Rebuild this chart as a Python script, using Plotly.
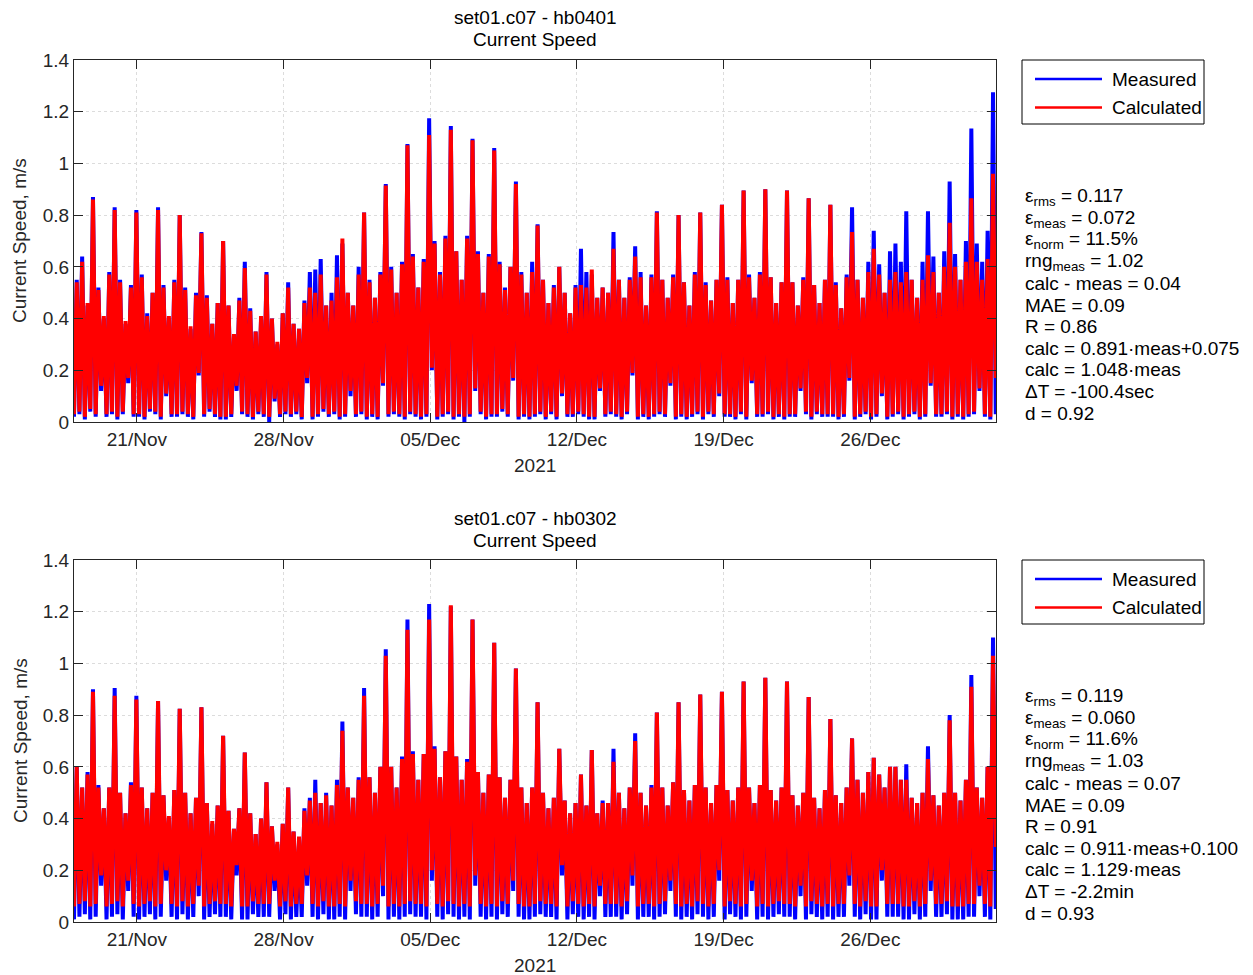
import datetime as dt
import plotly.graph_objects as go

# ---------------- data ----------------
# Peak speeds, one per quarter lunar day (≈6.21 h), starting 2021-11-17 20:54
top_meas_peaks = [
    0.50, 0.55, 0.64, 0.45,  0.87, 0.52, 0.40, 0.58,  0.83, 0.55, 0.38, 0.53,
    0.82, 0.57, 0.42, 0.50,  0.83, 0.53, 0.40, 0.55,  0.80, 0.52, 0.36, 0.50,
    0.735, 0.49, 0.38, 0.46, 0.70, 0.45, 0.33, 0.48,  0.62, 0.44, 0.35, 0.40,
    0.58, 0.40, 0.30, 0.42,  0.54, 0.38, 0.36, 0.47,  0.58, 0.59, 0.63, 0.45,
    0.50, 0.645, 0.69, 0.50, 0.45, 0.60, 0.81, 0.55,  0.48, 0.58, 0.92, 0.60,
    0.50, 0.62, 1.075, 0.65, 0.52, 0.63, 1.175, 0.70, 0.58, 0.72, 1.145, 0.66,
    0.55, 0.72, 1.095, 0.66, 0.50, 0.65, 1.06, 0.62,  0.52, 0.60, 0.93, 0.58,
    0.50, 0.62, 0.765, 0.55, 0.46, 0.53, 0.60, 0.50,  0.42, 0.53, 0.67, 0.58,
    0.57, 0.48, 0.52, 0.50,  0.735, 0.55, 0.48, 0.56, 0.68, 0.58, 0.45, 0.57,
    0.815, 0.55, 0.48, 0.57, 0.80, 0.54, 0.45, 0.58,  0.81, 0.54, 0.47, 0.55,
    0.84, 0.56, 0.46, 0.55,  0.895, 0.57, 0.48, 0.58, 0.90, 0.56, 0.46, 0.54,
    0.895, 0.54, 0.45, 0.56, 0.865, 0.53, 0.46, 0.55, 0.84, 0.54, 0.44, 0.57,
    0.83, 0.55, 0.48, 0.62,  0.74, 0.61, 0.50, 0.66,  0.69, 0.62, 0.815, 0.55,
    0.48, 0.62, 0.815, 0.64, 0.50, 0.66, 0.93, 0.65,  0.55, 0.70, 1.135, 0.69,
    0.62, 0.74, 1.275, 0.75, 0.60,
]
top_calc_peaks = [
    0.49, 0.54, 0.62, 0.46,  0.86, 0.51, 0.41, 0.57,  0.82, 0.54, 0.39, 0.52,
    0.81, 0.56, 0.41, 0.50,  0.82, 0.52, 0.41, 0.54,  0.80, 0.51, 0.37, 0.49,
    0.73, 0.48, 0.38, 0.46,  0.70, 0.45, 0.34, 0.47,  0.595, 0.43, 0.35, 0.41,
    0.57, 0.40, 0.31, 0.42,  0.52, 0.38, 0.36, 0.46,  0.52, 0.50, 0.57, 0.45,
    0.47, 0.56, 0.71, 0.50,  0.45, 0.57, 0.81, 0.54,  0.48, 0.57, 0.915, 0.59,
    0.50, 0.61, 1.07, 0.64,  0.52, 0.62, 1.11, 0.69,  0.57, 0.71, 1.13, 0.66,
    0.55, 0.71, 1.09, 0.65,  0.50, 0.64, 1.05, 0.61,  0.51, 0.60, 0.92, 0.57,
    0.50, 0.58, 0.76, 0.55,  0.46, 0.52, 0.60, 0.50,  0.42, 0.52, 0.53, 0.52,
    0.59, 0.48, 0.52, 0.50,  0.67, 0.55, 0.48, 0.55,  0.64, 0.56, 0.45, 0.56,
    0.81, 0.55, 0.48, 0.56,  0.80, 0.54, 0.45, 0.57,  0.81, 0.53, 0.47, 0.55,
    0.84, 0.55, 0.46, 0.55,  0.895, 0.56, 0.48, 0.57, 0.90, 0.56, 0.46, 0.54,
    0.895, 0.54, 0.45, 0.55, 0.865, 0.53, 0.46, 0.55, 0.84, 0.53, 0.44, 0.56,
    0.735, 0.55, 0.48, 0.58, 0.67, 0.57, 0.50, 0.55,  0.58, 0.54, 0.58, 0.55,
    0.48, 0.55, 0.645, 0.58, 0.50, 0.60, 0.77, 0.60,  0.55, 0.62, 0.865, 0.62,
    0.55, 0.63, 0.96, 0.65,  0.55,
]
bot_meas_peaks = [
    0.55, 0.60, 0.52, 0.58,  0.90, 0.53, 0.44, 0.52,  0.905, 0.50, 0.42, 0.54,
    0.875, 0.52, 0.44, 0.50, 0.855, 0.49, 0.40, 0.51, 0.825, 0.50, 0.42, 0.48,
    0.83, 0.46, 0.38, 0.45,  0.72, 0.43, 0.36, 0.44,  0.655, 0.42, 0.34, 0.40,
    0.54, 0.37, 0.30, 0.38,  0.52, 0.35, 0.32, 0.44,  0.48, 0.55, 0.46, 0.50,
    0.45, 0.55, 0.775, 0.52, 0.48, 0.56, 0.905, 0.56, 0.50, 0.60, 1.055, 0.60,
    0.52, 0.64, 1.17, 0.66,  0.55, 0.65, 1.23, 0.68,  0.56, 0.66, 1.22, 0.64,
    0.55, 0.63, 1.17, 0.58,  0.50, 0.57, 1.08, 0.56,  0.48, 0.55, 0.98, 0.52,
    0.46, 0.52, 0.85, 0.50,  0.44, 0.48, 0.67, 0.47,  0.42, 0.46, 0.57, 0.45,
    0.665, 0.42, 0.47, 0.46, 0.67, 0.50, 0.44, 0.52,  0.73, 0.50, 0.45, 0.53,
    0.81, 0.52, 0.45, 0.54,  0.85, 0.51, 0.47, 0.53,  0.88, 0.52, 0.46, 0.53,
    0.89, 0.51, 0.47, 0.52,  0.93, 0.52, 0.46, 0.53,  0.945, 0.51, 0.47, 0.52,
    0.93, 0.49, 0.45, 0.50,  0.87, 0.48, 0.44, 0.51,  0.785, 0.49, 0.46, 0.52,
    0.71, 0.55, 0.50, 0.58,  0.635, 0.57, 0.52, 0.60, 0.60, 0.55, 0.61, 0.48,
    0.46, 0.50, 0.68, 0.49,  0.45, 0.50, 0.80, 0.50,  0.47, 0.55, 0.955, 0.52,
    0.48, 0.60, 1.10, 0.62,  0.55,
]
bot_calc_peaks = [
    0.54, 0.60, 0.52, 0.57,  0.89, 0.52, 0.44, 0.52,  0.875, 0.50, 0.42, 0.53,
    0.86, 0.52, 0.44, 0.50,  0.855, 0.49, 0.41, 0.51, 0.825, 0.50, 0.42, 0.48,
    0.83, 0.46, 0.39, 0.45,  0.72, 0.43, 0.36, 0.44,  0.655, 0.42, 0.34, 0.40,
    0.54, 0.37, 0.31, 0.38,  0.52, 0.35, 0.33, 0.43,  0.47, 0.50, 0.46, 0.49,
    0.45, 0.53, 0.74, 0.52,  0.48, 0.55, 0.875, 0.56, 0.50, 0.60, 1.03, 0.60,
    0.52, 0.63, 1.13, 0.65,  0.55, 0.65, 1.17, 0.67,  0.56, 0.66, 1.225, 0.64,
    0.55, 0.62, 1.17, 0.58,  0.50, 0.57, 1.08, 0.56,  0.48, 0.55, 0.98, 0.52,
    0.46, 0.52, 0.85, 0.50,  0.44, 0.48, 0.67, 0.47,  0.42, 0.46, 0.57, 0.45,
    0.665, 0.42, 0.46, 0.46, 0.62, 0.50, 0.44, 0.52,  0.70, 0.50, 0.45, 0.52,
    0.81, 0.52, 0.45, 0.54,  0.85, 0.51, 0.47, 0.53,  0.88, 0.52, 0.46, 0.53,
    0.89, 0.51, 0.47, 0.52,  0.93, 0.52, 0.46, 0.53,  0.945, 0.51, 0.47, 0.52,
    0.93, 0.49, 0.45, 0.50,  0.87, 0.48, 0.44, 0.51,  0.785, 0.49, 0.46, 0.52,
    0.71, 0.55, 0.50, 0.58,  0.635, 0.57, 0.52, 0.60, 0.60, 0.55, 0.55, 0.48,
    0.46, 0.50, 0.63, 0.49,  0.45, 0.50, 0.78, 0.50,  0.47, 0.55, 0.91, 0.52,
    0.48, 0.60, 1.03, 0.60,  0.55,
]
# Slack-water minima following each peak
top_meas_troughs = [
    0.02,0.03,0.01,0.04, 0.02,0.12,0.02,0.03, 0.01,0.03,0.15,0.02, 0.02,0.01,0.04,0.03,
    0.01,0.10,0.02,0.02, 0.03,0.02,0.01,0.18, 0.02,0.04,0.02,0.01, 0.01,0.02,0.12,0.03,
    0.02,0.01,0.03,0.02, 0.00,0.08,0.02,0.03, 0.02,0.03,0.01,0.15, 0.01,0.02,0.04,0.02,
    0.03,0.01,0.02,0.10, 0.02,0.03,0.01,0.02, 0.01,0.14,0.02,0.03, 0.02,0.01,0.03,0.02,
    0.01,0.02,0.20,0.01, 0.02,0.03,0.01,0.02, 0.00,0.02,0.12,0.03, 0.01,0.02,0.02,0.04,
    0.02,0.16,0.01,0.02, 0.01,0.02,0.03,0.01, 0.03,0.01,0.10,0.02, 0.02,0.03,0.02,0.01,
    0.01,0.12,0.02,0.03, 0.02,0.01,0.03,0.18, 0.01,0.02,0.01,0.02, 0.03,0.02,0.14,0.01,
    0.02,0.01,0.02,0.03, 0.01,0.03,0.02,0.10, 0.02,0.02,0.01,0.03, 0.01,0.15,0.02,0.02,
    0.03,0.01,0.02,0.01, 0.02,0.02,0.12,0.03, 0.01,0.03,0.02,0.02, 0.02,0.01,0.02,0.16,
    0.01,0.02,0.03,0.01, 0.02,0.10,0.01,0.02, 0.03,0.01,0.02,0.03, 0.01,0.02,0.14,0.02,
    0.02,0.03,0.01,0.02, 0.01,0.02,0.03,0.12, 0.02,0.01,0.03,0.04, 0.18,
]
top_calc_troughs = [
    0.03,0.04,0.02,0.05, 0.03,0.14,0.03,0.04, 0.02,0.04,0.17,0.03, 0.03,0.02,0.05,0.04,
    0.02,0.11,0.03,0.03, 0.04,0.03,0.02,0.19, 0.03,0.05,0.03,0.02, 0.02,0.03,0.14,0.04,
    0.03,0.02,0.04,0.03, 0.02,0.09,0.03,0.04, 0.03,0.04,0.02,0.17, 0.02,0.03,0.05,0.03,
    0.04,0.02,0.03,0.12, 0.03,0.04,0.02,0.03, 0.02,0.15,0.03,0.04, 0.03,0.02,0.04,0.03,
    0.02,0.03,0.21,0.02, 0.03,0.04,0.02,0.03, 0.02,0.03,0.13,0.04, 0.02,0.03,0.03,0.05,
    0.03,0.17,0.02,0.03, 0.02,0.03,0.04,0.02, 0.04,0.02,0.11,0.03, 0.03,0.04,0.03,0.02,
    0.02,0.13,0.03,0.04, 0.03,0.02,0.04,0.19, 0.02,0.03,0.02,0.03, 0.04,0.03,0.15,0.02,
    0.03,0.02,0.03,0.04, 0.02,0.04,0.03,0.11, 0.03,0.03,0.02,0.04, 0.02,0.16,0.03,0.03,
    0.04,0.02,0.03,0.02, 0.03,0.03,0.13,0.04, 0.02,0.04,0.03,0.03, 0.03,0.02,0.03,0.17,
    0.02,0.03,0.04,0.02, 0.03,0.11,0.02,0.03, 0.04,0.02,0.03,0.04, 0.02,0.03,0.15,0.03,
    0.03,0.04,0.02,0.03, 0.02,0.03,0.04,0.13, 0.03,0.02,0.17,0.05, 0.20,
]
bot_meas_troughs = [
    0.01,0.02,0.03,0.01, 0.02,0.14,0.01,0.02, 0.03,0.01,0.12,0.02, 0.01,0.02,0.03,0.01,
    0.02,0.16,0.02,0.01, 0.03,0.01,0.02,0.10, 0.01,0.02,0.03,0.02, 0.02,0.01,0.18,0.01,
    0.01,0.03,0.02,0.02, 0.02,0.12,0.01,0.03, 0.01,0.02,0.02,0.14, 0.02,0.01,0.03,0.01,
    0.01,0.02,0.01,0.12, 0.03,0.02,0.02,0.01, 0.02,0.10,0.01,0.02, 0.01,0.02,0.03,0.02,
    0.02,0.01,0.16,0.02, 0.01,0.03,0.02,0.01, 0.02,0.01,0.14,0.02, 0.01,0.02,0.01,0.03,
    0.02,0.12,0.02,0.01, 0.01,0.02,0.03,0.02, 0.02,0.01,0.18,0.01, 0.03,0.02,0.01,0.02,
    0.01,0.10,0.02,0.02, 0.02,0.01,0.03,0.14, 0.01,0.02,0.02,0.01, 0.02,0.03,0.12,0.02,
    0.01,0.02,0.01,0.03, 0.02,0.01,0.02,0.16, 0.01,0.03,0.02,0.01, 0.02,0.12,0.01,0.02,
    0.01,0.02,0.03,0.02, 0.02,0.01,0.10,0.01, 0.03,0.02,0.01,0.02, 0.01,0.02,0.02,0.14,
    0.02,0.01,0.03,0.01, 0.01,0.16,0.02,0.02, 0.02,0.01,0.01,0.03, 0.01,0.02,0.12,0.02,
    0.02,0.03,0.01,0.01, 0.01,0.02,0.02,0.10, 0.02,0.01,0.05,0.02, 0.25,
]
bot_calc_troughs = [
    0.06,0.07,0.08,0.06, 0.07,0.18,0.06,0.07, 0.08,0.06,0.16,0.07, 0.06,0.07,0.08,0.06,
    0.07,0.20,0.07,0.06, 0.08,0.06,0.07,0.14, 0.06,0.07,0.08,0.07, 0.07,0.06,0.22,0.06,
    0.06,0.08,0.07,0.07, 0.07,0.16,0.06,0.08, 0.06,0.07,0.07,0.18, 0.07,0.06,0.08,0.06,
    0.06,0.07,0.06,0.16, 0.08,0.07,0.07,0.06, 0.07,0.14,0.06,0.07, 0.06,0.07,0.08,0.07,
    0.07,0.06,0.20,0.07, 0.06,0.08,0.07,0.06, 0.07,0.06,0.18,0.07, 0.06,0.07,0.06,0.08,
    0.07,0.16,0.07,0.06, 0.06,0.07,0.08,0.07, 0.07,0.06,0.22,0.06, 0.08,0.07,0.06,0.07,
    0.06,0.14,0.07,0.07, 0.07,0.06,0.08,0.18, 0.06,0.07,0.07,0.06, 0.07,0.08,0.16,0.07,
    0.06,0.07,0.06,0.08, 0.07,0.06,0.07,0.20, 0.06,0.08,0.07,0.06, 0.07,0.16,0.06,0.07,
    0.06,0.07,0.08,0.07, 0.07,0.06,0.14,0.06, 0.08,0.07,0.06,0.07, 0.06,0.07,0.07,0.18,
    0.07,0.06,0.08,0.06, 0.06,0.20,0.07,0.07, 0.07,0.06,0.06,0.08, 0.06,0.07,0.16,0.07,
    0.07,0.08,0.06,0.06, 0.06,0.07,0.07,0.14, 0.07,0.06,0.29,0.07, 0.29,
]

title_lines = [["set01.c07 - hb0401", "Current Speed"], ["set01.c07 - hb0302", "Current Speed"]]
stats_top = ["ε<sub>rms</sub> = 0.117", "ε<sub>meas</sub> = 0.072", "ε<sub>norm</sub> = 11.5%",
             "rng<sub>meas</sub> = 1.02", "calc - meas = 0.04", "MAE = 0.09", "R = 0.86",
             "calc = 0.891·meas+0.075", "calc = 1.048·meas", "ΔT = -100.4sec", "d = 0.92"]
stats_bot = ["ε<sub>rms</sub> = 0.119", "ε<sub>meas</sub> = 0.060", "ε<sub>norm</sub> = 11.6%",
             "rng<sub>meas</sub> = 1.03", "calc - meas = 0.07", "MAE = 0.09", "R = 0.91",
             "calc = 0.911·meas+0.100", "calc = 1.129·meas", "ΔT = -2.2min", "d = 0.93"]
tick_dates = ["2021-11-21", "2021-11-28", "2021-12-05", "2021-12-12", "2021-12-19", "2021-12-26"]
tick_text = ["21/Nov", "28/Nov", "05/Dec", "12/Dec", "19/Dec", "26/Dec"]
series_names = ["Measured", "Calculated"]

# ---------------- build ----------------
# The page body keeps its default 8 px margin, so the figure sits at (8, 8).
OX, OY = 8, 8
W, H = 1253, 975
T0 = dt.datetime(2021, 11, 17, 20, 54)
Q = dt.timedelta(hours=6.21)


def build(peaks, troughs):
    xs, ys = [], []
    for n, (p, t) in enumerate(zip(peaks, troughs)):
        xs.append(T0 + n * Q)
        ys.append(p)
        xs.append(T0 + (n + 0.5) * Q)
        ys.append(t)
    return xs, ys


def px(x):
    return (x - OX) / W


def py(y):
    return 1 - (y - OY) / H


FONT = "Liberation Sans, Arial, Helvetica, sans-serif"
AX = "#262626"
BLUE = "rgb(0,0,255)"
RED = "rgb(255,0,0)"
LW = 4

fig = go.Figure()
panels = [
    (top_meas_peaks, top_meas_troughs, top_calc_peaks, top_calc_troughs, "x", "y"),
    (bot_meas_peaks, bot_meas_troughs, bot_calc_peaks, bot_calc_troughs, "x2", "y2"),
]
for mp, mt, cp, ct, xa, ya in panels:
    xm, ym = build(mp, mt)
    xc, yc = build(cp, ct)
    fig.add_trace(go.Scatter(x=xm, y=ym, mode="lines", line=dict(color=BLUE, width=LW),
                             name=series_names[0], showlegend=False, xaxis=xa, yaxis=ya))
    fig.add_trace(go.Scatter(x=xc, y=yc, mode="lines", line=dict(color=RED, width=LW),
                             name=series_names[1], showlegend=False, xaxis=xa, yaxis=ya))

panel_px = [(60, 422), (560, 922)]  # top, bottom pixel of each plot area
x_left, x_right = 74, 996

axis_common = dict(showline=True, linecolor=AX, linewidth=1, mirror="ticks",
                   ticks="inside", ticklen=9, tickcolor=AX, tickwidth=1,
                   showgrid=True, gridcolor="#dcdcdc", griddash="dot", gridwidth=1,
                   zeroline=False, automargin=False,
                   tickfont=dict(family=FONT, size=19, color=AX))

layout = dict(width=W, height=H, margin=dict(l=0, r=0, t=0, b=0, autoexpand=False),
              paper_bgcolor="white", plot_bgcolor="white", showlegend=False,
              font=dict(family=FONT, size=19, color="black"))
for i, (ytop, ybot) in enumerate(panel_px):
    sfx = "" if i == 0 else str(i + 1)
    layout["xaxis" + sfx] = dict(axis_common, type="date",
                                 domain=[px(x_left), px(x_right)],
                                 range=["2021-11-18 00:00", "2022-01-01 00:00"],
                                 tickvals=tick_dates, ticktext=tick_text,
                                 anchor="y" + sfx)
    layout["yaxis" + sfx] = dict(axis_common, domain=[py(ybot), py(ytop)],
                                 range=[0, 1.4], tickvals=[0, 0.2, 0.4, 0.6, 0.8, 1.0, 1.2, 1.4],
                                 ticktext=["0", "0.2", "0.4", "0.6", "0.8", "1", "1.2", "1.4"],
                                 anchor="x" + sfx)
fig.update_layout(**layout)

annotations = []
shapes = []
for i, (ytop, ybot) in enumerate(panel_px):
    cx = (x_left + x_right) / 2
    # title (two lines)
    for j, line in enumerate(title_lines[i]):
        annotations.append(dict(x=px(cx), y=py(ytop - 42 + 22 * j), xref="paper", yref="paper",
                                text=line, showarrow=False, xanchor="center", yanchor="middle",
                                font=dict(family=FONT, size=19, color="black")))
    # year label
    annotations.append(dict(x=px(cx), y=py(ybot + 43), xref="paper", yref="paper",
                            text="2021", showarrow=False, xanchor="center", yanchor="middle",
                            font=dict(family=FONT, size=19, color=AX)))
    # y label
    annotations.append(dict(x=px(20), y=py((ytop + ybot) / 2), xref="paper", yref="paper",
                            text="Current Speed, m/s", textangle=-90, showarrow=False,
                            xanchor="center", yanchor="middle",
                            font=dict(family=FONT, size=19, color=AX)))
    # legend box
    lt = ytop
    shapes.append(dict(type="rect", xref="paper", yref="paper",
                       x0=px(1022), x1=px(1204), y0=py(lt + 64), y1=py(lt),
                       line=dict(color="black", width=1), fillcolor="white"))
    for j, col in enumerate([BLUE, RED]):
        yy = lt + 19 + 28.5 * j
        shapes.append(dict(type="line", xref="paper", yref="paper",
                           x0=px(1035), x1=px(1102), y0=py(yy), y1=py(yy),
                           line=dict(color=col, width=2.5)))
        annotations.append(dict(x=px(1110), y=py(yy), xref="paper", yref="paper",
                                text=series_names[j], showarrow=False, xanchor="left",
                                yanchor="middle", font=dict(family=FONT, size=19, color="black")))
    # statistics
    stats = stats_top if i == 0 else stats_bot
    for k, s in enumerate(stats):
        yy = ytop + 137 + 21.6 * k
        annotations.append(dict(x=px(1023), y=py(yy), xref="paper", yref="paper",
                                text=s, showarrow=False, xanchor="left", yanchor="middle",
                                font=dict(family=FONT, size=19, color="black")))

fig.update_layout(annotations=annotations, shapes=shapes)

fig.write_html("out.html", config={"displayModeBar": False})
